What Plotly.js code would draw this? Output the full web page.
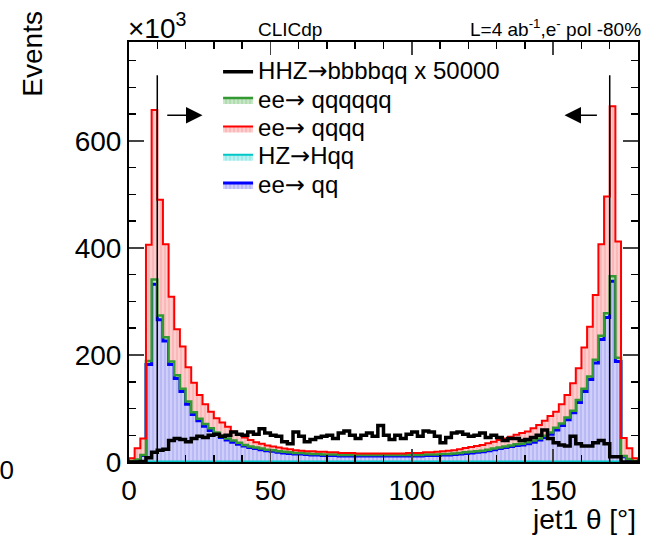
<!DOCTYPE html>
<html>
<head>
<meta charset="utf-8">
<script src="https://cdn.plot.ly/plotly-3.0.1.min.js"></script>
<style>html,body{margin:0;padding:0;background:#fff;}#chart{width:646px;height:541px;}</style>
</head>
<body>
<div id="chart"></div>
<script>
// ---- data (events per 2-degree bin, in thousands) ----
const binLow = 0, binHigh = 180, nBins = 90;
const legendNames = ["HHZ\u2192bbbbqq x 50000", "ee\u2192 qqqqqq", "ee\u2192 qqqq", "HZ\u2192Hqq", "ee\u2192 qq"];
const HZ_Hqq = [0,0,0,1,1,1,1,1,1,1, 1,1,1,1,1,1,1,1,1,1, 1,1,1,1,1,1,1,1,1,1, 1,1,1,1,1,1,1,1,1,1, 1,1,1,1,1,1,1,1,1,1, 1,1,1,1,1,1,1,1,1,1, 1,1,1,1,1,1,1,1,1,1, 1,1,1,1,1,1,1,1,1,1, 1,1,1,1,1,1,1,0,0,0];
const ee_qq = [2,4,12,181,331,265,225,181,155,131, 107,88,76,66,58,51,45,40,36,32, 29,26,24,22,20,19,17,16,15,14, 14,13,12,12,11,11,11,10,10,10, 10,10,10,10,10,10,10,10,10,10, 10,10,11,11,11,12,12,13,14,15, 16,17,18,20,22,24,26,28,30,31, 33,36,40,45,51,59,67,78,91,110, 131,153,184,228,269,337,187,10,5,2];
const ee_qqqqqq = [0,0.5,1,7,9,8,7,6,6,5, 5,4,4,4,4,3,3,3,3,3, 2,2,2,2,2,2,2,2,2,2, 2,2,2,2,2,2,2,2,2,2, 2,2,2,2,2,2,2,2,2,2, 2,2,2,2,2,2,2,2,2,2, 2,2,2,2,2,2,2,2,2,2, 3,3,3,3,3,4,4,4,4,5, 5,6,6,7,8,9,7,1,0.5,0];
const ee_qqqq = [5,21,31,217,317,216,174,121,86,79, 64,55,44,37,31,27,25,22,17,15, 14,12,10,9,8,7,7,6,6,5, 4,4,5,4,5,4,4,4,4,4, 3,3,3,3,3,3,3,3,3,4, 4,4,4,4,5,5,6,6,7,8, 9,10,11,12,13,14,15,16,18,20, 20,23,25,28,31,30,36,42,51,59, 77,93,121,171,218,318,217,34,20,5];
const HHZ_x50000 = [0,0,1,8,18,22,24,40,44,42, 38,44,48,46,50,52,48,50,56,52, 50,56,52,62,54,50,48,38,34,56, 48,38,42,46,48,50,44,54,58,50, 44,50,54,48,68,50,42,50,44,52, 56,48,58,56,48,36,46,54,56,52, 48,50,54,46,50,46,40,44,44,40, 42,46,50,60,44,36,32,30,48,34, 30,30,36,40,34,10,10,0,0,0];
const cutAngles = [10, 170];
const cutTop = 723;
const arrowY = 648;
const arrowSpans = [[13, 26], [166, 154]];
const xTicks = [0, 50, 100, 150];
const yTicks = [0, 200, 400, 600];

// ---- build step outlines ----
const binW = (binHigh - binLow) / nBins;
function stepXY(vals) {
  const x = [binLow], y = [0];
  for (let i = 0; i < vals.length; i++) { x.push(binLow + i * binW); y.push(vals[i]); }
  x.push(binHigh); y.push(vals[vals.length - 1]);
  x.push(binHigh); y.push(0);
  return {x, y};
}
function addArr(a, b) { return a.map((v, i) => v + b[i]); }
const s1 = HZ_Hqq.slice();
const s2 = addArr(s1, ee_qq);
const s3 = addArr(s2, ee_qqqqqq);
const s4 = addArr(s3, ee_qqqq);

const FONT = "Liberation Sans, Arial, Helvetica, sans-serif";
// legend label: bigger glyphs, arrow from DejaVu Sans
function legLabel(s) {
  const parts = s.split("\u2192");
  return "<span style=\"font-size:24px\">" + parts[0] +
    "<span style=\"font-family:'DejaVu Sans'\">\u2192</span>" + parts[1] + "</span>";
}
function stackTrace(vals, name, lc, lw, bg, rank, fill) {
  const p = stepXY(vals);
  return {
    x: p.x, y: p.y, type: "scatter", mode: "lines", name: legLabel(name),
    line: {shape: "hv", color: lc, width: lw},
    fill: fill, fillcolor: bg,
    fillpattern: {shape: "|", fgcolor: "rgba(255,255,255,0.75)", bgcolor: bg, size: 4, solidity: 0.2},
    legendrank: rank, hoverinfo: "skip"
  };
}
const hp = stepXY(HHZ_x50000);
const traces = [
  stackTrace(s1, legendNames[3], "#00c8c8", 2, "#9eeaea", 4, "tozeroy"),
  stackTrace(s2, legendNames[4], "#0000ff", 3, "#b9b9f6", 5, "tonexty"),
  stackTrace(s3, legendNames[1], "#339933", 2.5, "#b0dcb0", 2, "tonexty"),
  stackTrace(s4, legendNames[2], "#ff0000", 2, "#fbb8b8", 3, "tonexty"),
  {x: hp.x, y: hp.y, type: "scatter", mode: "lines", name: legLabel(legendNames[0]),
   line: {shape: "hv", color: "#000000", width: 3.5}, legendrank: 1, hoverinfo: "skip"}
];

const shapes = cutAngles.map(c => ({type: "line", xref: "x", yref: "y", x0: c, x1: c, y0: 0, y1: cutTop,
  line: {color: "#000", width: 1.5}, layer: "above"}));

const annotations = [
  {xref: "paper", yref: "paper", x: -0.005, y: 1.0, xanchor: "left", yanchor: "bottom", yshift: -4,
   text: "\u00d710<sup>3</sup>", showarrow: false, font: {family: FONT, size: 28, color: "#000"}},
  {xref: "paper", yref: "paper", x: 0.25, y: 1.0, xanchor: "left", yanchor: "bottom", yshift: 0,
   text: "CLICdp", showarrow: false, font: {family: FONT, size: 19, color: "#000"}},
  {xref: "paper", yref: "paper", x: 1.01, y: 1.0, xanchor: "right", yanchor: "bottom", yshift: 0,
   text: "L=4 ab<sup>-1</sup>,e<sup>-</sup> pol -80%", showarrow: false, font: {family: FONT, size: 19, color: "#000"}},
  {xref: "paper", yref: "paper", x: -0.222, y: 0, xanchor: "right", yanchor: "middle", yshift: -8,
   text: "50", showarrow: false, font: {family: FONT, size: 26, color: "#000"}},
  {xref: "paper", yref: "paper", x: 1.0, y: -0.138, xanchor: "right", yanchor: "middle",
   text: "jet1 \u03b8 [\u00b0]", showarrow: false, font: {family: FONT, size: 28, color: "#000"}},
  {xref: "paper", yref: "paper", x: -0.19, y: 1.08, xanchor: "center", yanchor: "top", textangle: -90,
   text: "Events", showarrow: false, font: {family: FONT, size: 28, color: "#000"}}
];
arrowSpans.forEach(s => annotations.push({
  xref: "x", yref: "y", axref: "x", ayref: "y", x: s[1], y: arrowY, ax: s[0], ay: arrowY,
  text: "", showarrow: true, arrowhead: 2, arrowsize: 2.2, arrowwidth: 1.5, arrowcolor: "#000"
}));

const layout = {
  width: 646, height: 541,
  margin: {l: 129, r: 8, t: 42, b: 79, pad: 0},
  paper_bgcolor: "#fff", plot_bgcolor: "#fff",
  font: {family: FONT, color: "#000"},
  showlegend: true,
  legend: {x: 0.175, y: 0.975, xanchor: "left", yanchor: "top", bgcolor: "rgba(0,0,0,0)",
    font: {family: FONT, size: 19.5, color: "#000"}, itemwidth: 30, tracegroupgap: 0, traceorder: "normal"},
  xaxis: {range: [binLow, binHigh], tickvals: xTicks, ticks: "inside", ticklen: 13, tickwidth: 1.5,
    showline: true, linewidth: 2, linecolor: "#000", mirror: "ticks", showgrid: false, zeroline: false,
    tickfont: {family: FONT, size: 28}, ticklabelstandoff: 2,
    minor: {dtick: 10, ticks: "inside", ticklen: 7, tickwidth: 1.5, tickcolor: "#000", showgrid: false}},
  yaxis: {range: [0, 785], tickvals: yTicks, ticks: "inside", ticklen: 15, tickwidth: 1.5,
    showline: true, linewidth: 2, linecolor: "#000", mirror: "ticks", showgrid: false, zeroline: false,
    tickfont: {family: FONT, size: 28},
    minor: {dtick: 50, ticks: "inside", ticklen: 7, tickwidth: 1.5, tickcolor: "#000", showgrid: false}},
  shapes: shapes,
  annotations: annotations
};

Plotly.newPlot("chart", traces, layout, {staticPlot: true, displayModeBar: false});
</script>
</body>
</html>
